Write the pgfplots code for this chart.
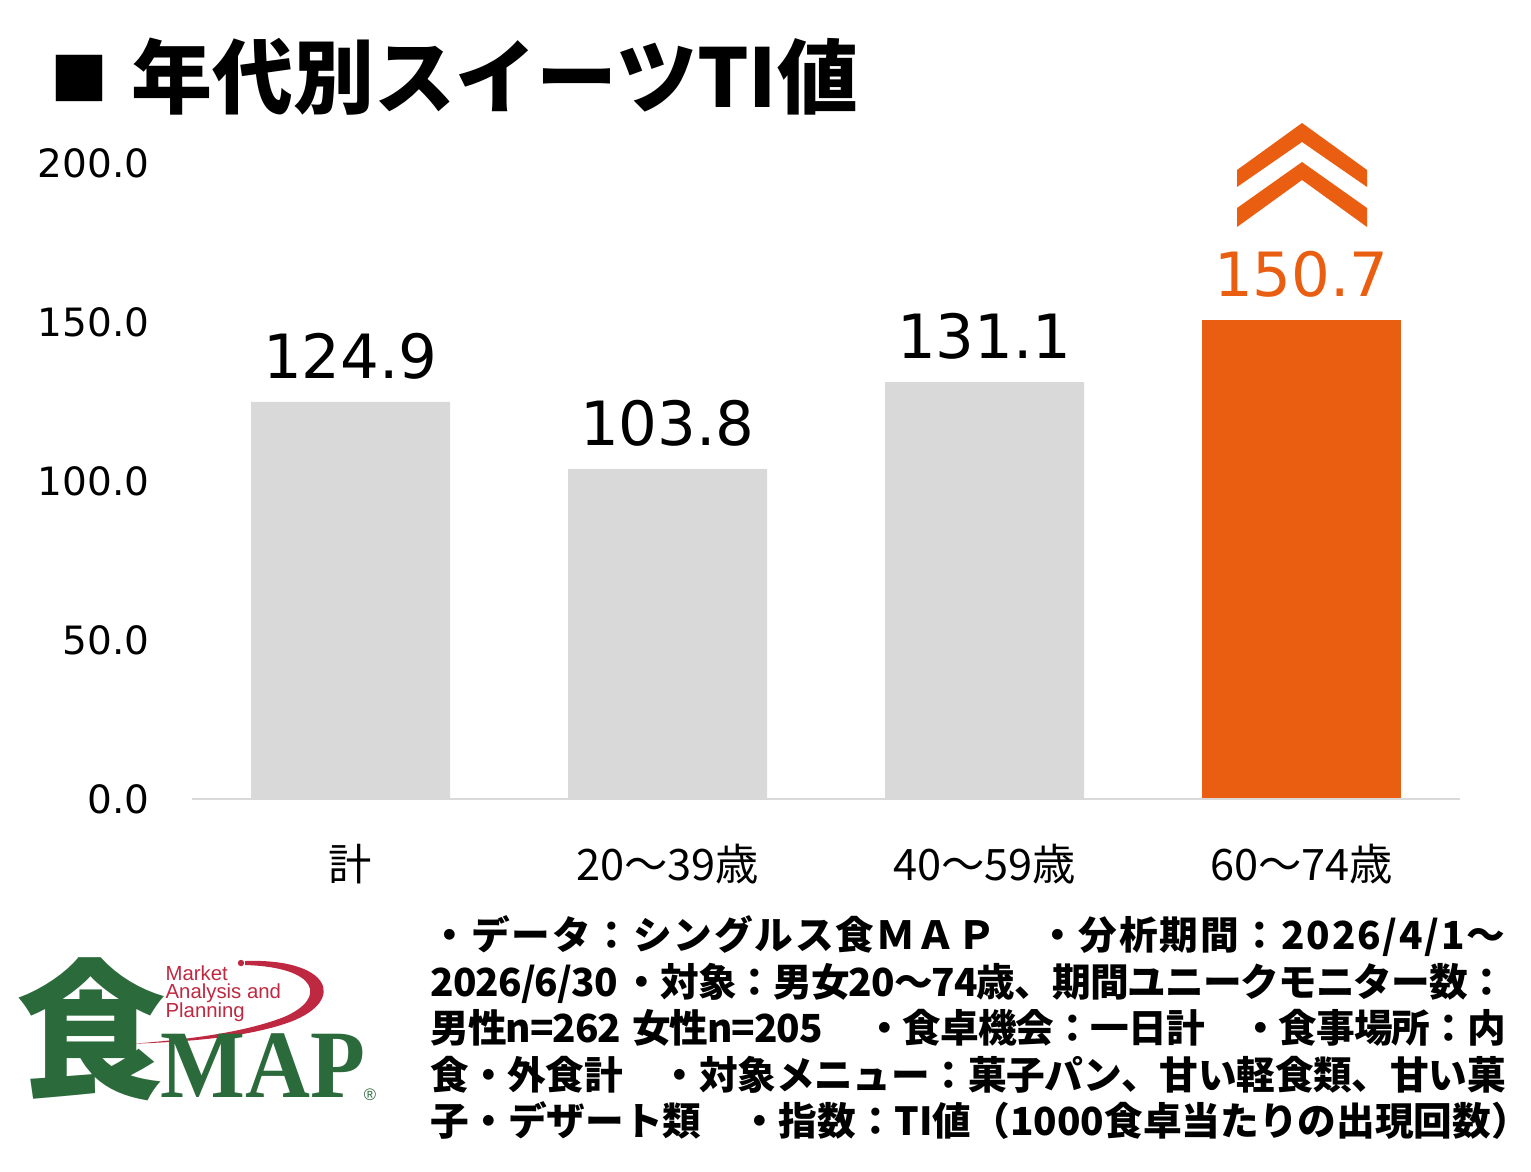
\documentclass[border=0pt]{standalone}
\usepackage{pgfplots}
\pgfplotsset{compat=1.18}
\usepackage{graphicx}
\usepackage{fontspec}
\setmainfont{Noto Sans CJK JP}
\newfontfamily\numfont{DejaVu Sans}
\newfontfamily\serifbold{Liberation Serif}
\newfontfamily\logosans{Liberation Sans}
\definecolor{barg}{HTML}{D9D9D9}
\definecolor{baro}{HTML}{EA5E12}
\definecolor{logog}{HTML}{2B6A3B}
\definecolor{logor}{HTML}{BE2841}
\makeatletter
\def\spreadtext#1{\spread@i#1\spread@end}
\def\spread@i#1#2\spread@end{#1\ifx\relax#2\relax\else\hskip0pt plus 2pt minus 0.5pt\relax\spread@i#2\spread@end\fi}
\makeatother
\begin{document}
\begin{tikzpicture}
\useasboundingbox (0,0) rectangle (459.3pt,351.3pt);
\begin{axis}[
  at={(57.6pt,111.6pt)}, anchor=south west,
  scale only axis, width=380.4pt, height=190.8pt,
  xmin=-0.5, xmax=3.5, ymin=0, ymax=200,
  axis line style={draw=none},
  major tick length=0pt,
  ytick={0,50,100,150,200},
  yticklabels={0.0,50.0,100.0,150.0,200.0},
  yticklabel style={font=\numfont\fontsize{11.7pt}{12pt}\selectfont, anchor=east, inner sep=0pt, xshift=-12.6pt},
  xtick={0,1,2,3},
  xticklabels={計,20～39歳,40～59歳,60～74歳},
  xticklabel style={font=\fontsize{13pt}{14pt}\selectfont, anchor=base, inner sep=0pt, yshift=-24.3pt},
  ybar, bar width=59.7pt,
  /pgf/number format/assume math mode=true,
  nodes near coords={\pgfmathprintnumber[fixed,fixed zerofill,precision=1]{\pgfplotspointmeta}},
  every node near coord/.append style={font=\numfont\fontsize{18.3pt}{20pt}\selectfont, inner sep=0pt, yshift=6.6pt},
  clip=false,
]
\addplot[bar shift=0pt, fill=barg, draw=none, every node near coord/.append style={text=black}] coordinates {(0,124.9) (1,103.8) (2,131.1)};
\addplot[bar shift=0pt, fill=baro, draw=none, every node near coord/.append style={text=baro}] coordinates {(3,150.7)};
\draw[barg, line width=0.6pt] (axis cs:-0.5,0) -- (axis cs:3.5,0);
\end{axis}
\begin{scope}[x=0.3pt, y=-0.3pt, shift={(0,351.3pt)}]
\node[anchor=base west, inner sep=0pt, font=\bfseries\fontsize{17.4pt}{18pt}\selectfont] at (50,101) {■};
\node[anchor=base west, inner sep=0pt, font=\bfseries\fontsize{24.3pt}{26pt}\selectfont] at (131,108) {年代別スイーツTI値};
\fill[baro] (1237,170) -- (1302,123) -- (1367,170) -- (1367,187) -- (1302,142) -- (1237,187) -- cycle;
\fill[baro] (1237,208) -- (1302,162) -- (1367,208) -- (1367,227) -- (1302,180) -- (1237,227) -- cycle;
\begin{scope}[every node/.style={anchor=base west, inner sep=0pt, font=\bfseries\fontsize{11.6pt}{12pt}\selectfont}]
\node at (430,949) {\makebox[322.5pt][s]{\spreadtext{・データ：シングルス食ＭＡＰ　・分析期間：2026/4/1～}}};
\node at (430,996) {\makebox[322.5pt][s]{\spreadtext{2026/6/30~・対象：男女20～74歳、期間ユニークモニター数：}}};
\node at (430,1042) {\makebox[322.5pt][s]{\spreadtext{男性n=262~~女性n=205　~・食卓機会：一日計　・食事場所：内}}};
\node at (430,1089) {\makebox[322.5pt][s]{\spreadtext{食・外食計　・対象メニュー：菓子パン、甘い軽食類、甘い菓}}};
\node at (430,1135) {子・デザート類　・指数：TI値（1000食卓当たりの出現回数）};
\end{scope}
% logo
\fill[logor] (245,961) .. controls (330,958) and (348,1000) .. (290,1022) .. controls (240,1040) and (170,1042) .. (130,1044)
  .. controls (180,1040) and (240,1034) .. (284,1017) .. controls (328,998) and (318,967) .. (245,965) -- cycle;
\fill[logor] (241,963) circle (3.2);
\node[anchor=base west, inner sep=0pt, text=logog, font=\bfseries\fontsize{45pt}{45pt}\selectfont] at (16,1086) {食};
\node[anchor=base west, inner sep=0pt, text=logog, font=\serifbold\bfseries\fontsize{29pt}{29pt}\selectfont] at (160,1097) {\scalebox{0.93}[1]{MAP}};
\node[inner sep=0pt, text=logog, font=\logosans\fontsize{5pt}{5pt}\selectfont] at (370,1095) {®};
\begin{scope}[every node/.style={anchor=base west, inner sep=0pt, text=logor, font=\logosans\fontsize{6.1pt}{6pt}\selectfont}]
\node at (165,980) {Market};
\node at (165,998) {Analysis and};
\node at (165,1017) {Planning};
\end{scope}
\end{scope}
\end{tikzpicture}
\end{document}
